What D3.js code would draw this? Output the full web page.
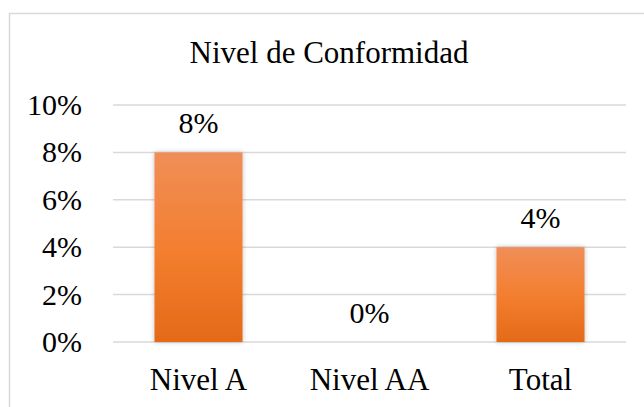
<!DOCTYPE html>
<html>
<head>
<meta charset="utf-8">
<script src="https://cdn.jsdelivr.net/npm/d3@7"></script>
<style>
  body { margin: 0; background: #fff; }
  text { font-family: "Liberation Serif", "Times New Roman", serif; fill: #000; }
</style>
</head>
<body>
<div id="chart"></div>
<script>
var categories = ["Nivel A", "Nivel AA", "Total"];
var values = [0.08, 0, 0.04];
var yTicks = [0, 0.02, 0.04, 0.06, 0.08, 0.10];
var title = "Nivel de Conformidad";

const width = 644, height = 407;
const margin = {left: 113, right: 18, top: 105, bottom: 65}; // plot area

var svg = d3.select("#chart").append("svg")
  .attr("width", width)
  .attr("height", height);

// chart frame (right and bottom edges fall outside the picture)
svg.append("rect")
  .attr("x", 9.5).attr("y", 13.5)
  .attr("width", 650).attr("height", 420)
  .attr("fill", "#fff")
  .attr("stroke", "#d9d9d9")
  .attr("stroke-width", 1.5);

var defs = svg.append("defs");
var grad = defs.append("linearGradient")
  .attr("id", "barGrad")
  .attr("x1", 0).attr("y1", 0).attr("x2", 0).attr("y2", 1);
grad.append("stop").attr("offset", "0%").attr("stop-color", "#f08e58");
grad.append("stop").attr("offset", "50%").attr("stop-color", "#f37f30");
grad.append("stop").attr("offset", "100%").attr("stop-color", "#e46a18");

var shadow = defs.append("filter").attr("id", "glow")
  .attr("x", "-20%").attr("y", "-20%").attr("width", "140%").attr("height", "140%");
shadow.append("feGaussianBlur").attr("in", "SourceAlpha").attr("stdDeviation", 2.5).attr("result", "b");
shadow.append("feComponentTransfer").append("feFuncA").attr("type", "linear").attr("slope", 0.25);
var merge = shadow.append("feMerge");
merge.append("feMergeNode");
merge.append("feMergeNode").attr("in", "SourceGraphic");

var x = d3.scaleBand()
  .domain(categories)
  .range([margin.left, width - margin.right])
  .paddingInner(0.485)
  .paddingOuter(0.2425);

var y = d3.scaleLinear()
  .domain([0, 0.10])
  .range([height - margin.bottom, margin.top]);

// gridlines
svg.append("g").selectAll("line")
  .data(yTicks)
  .enter()
  .append("line")
  .attr("x1", margin.left)
  .attr("x2", width - margin.right)
  .attr("y1", d => y(d))
  .attr("y2", d => y(d))
  .attr("stroke", "#d9d9d9")
  .attr("stroke-width", 1.5);

// y axis labels
var fmt = d3.format(".0%");
svg.append("g").selectAll("text")
  .data(yTicks)
  .enter()
  .append("text")
  .attr("x", 82)
  .attr("y", d => y(d) + 10)
  .attr("text-anchor", "end")
  .attr("font-size", "30px")
  .text(d => fmt(d));

// bars
svg.append("g").selectAll("rect")
  .data(values)
  .enter()
  .append("rect")
  .attr("x", (d, i) => x(categories[i]))
  .attr("y", d => y(d))
  .attr("width", x.bandwidth())
  .attr("height", d => y(0) - y(d))
  .attr("fill", "url(#barGrad)")
  .attr("filter", "url(#glow)");

// value labels
svg.append("g").selectAll("text")
  .data(values)
  .enter()
  .append("text")
  .attr("x", (d, i) => x(categories[i]) + x.bandwidth() / 2)
  .attr("y", d => y(d) - 19)
  .attr("text-anchor", "middle")
  .attr("font-size", "30px")
  .text(d => fmt(d));

// category labels
svg.append("g").selectAll("text")
  .data(categories)
  .enter()
  .append("text")
  .attr("x", d => x(d) + x.bandwidth() / 2)
  .attr("y", 390)
  .attr("text-anchor", "middle")
  .attr("font-size", "31px")
  .text(d => d);

// title
svg.append("text")
  .attr("x", 329)
  .attr("y", 63)
  .attr("text-anchor", "middle")
  .attr("font-size", "31px")
  .text(title);
</script>
</body>
</html>
